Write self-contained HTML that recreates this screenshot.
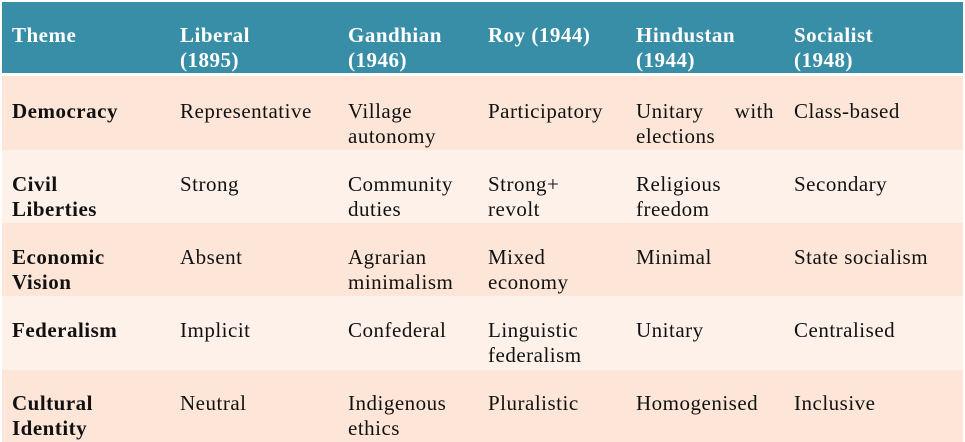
<!DOCTYPE html>
<html><head><meta charset="utf-8"><style>
body{margin:0;width:965px;height:442px;overflow:hidden;background:#fff;font-family:"Liberation Serif",serif;}
.hdr{position:absolute;left:2px;top:2px;width:961px;height:71px;background:#388ea6;}
.row{position:absolute;left:2px;width:961px;}
.c{position:absolute;font-size:21px;line-height:25px;letter-spacing:0.5px;color:#111;}
.h{color:#fff;font-weight:bold;}
.b{font-weight:bold;}
.j{text-align:justify;text-align-last:left;width:138px;}
</style></head><body>
<div class="hdr"></div>
<div class="row" style="top:76px;height:74px;background:#fde6d8"></div>
<div class="row" style="top:150px;height:73px;background:#fef1ea"></div>
<div class="row" style="top:223px;height:73px;background:#fde6d8"></div>
<div class="row" style="top:296px;height:74px;background:#fef1ea"></div>
<div class="row" style="top:370px;height:72px;background:#fde6d8"></div>

<div class="c h" style="left:12px;top:23px">Theme</div>
<div class="c h" style="left:180px;top:23px">Liberal<br>(1895)</div>
<div class="c h" style="left:348px;top:23px">Gandhian<br>(1946)</div>
<div class="c h" style="left:488px;top:23px">Roy (1944)</div>
<div class="c h" style="left:636px;top:23px">Hindustan<br>(1944)</div>
<div class="c h" style="left:794px;top:23px">Socialist<br>(1948)</div>

<div class="c b" style="left:12px;top:99px">Democracy</div>
<div class="c" style="left:180px;top:99px">Representative</div>
<div class="c" style="left:348px;top:99px">Village<br>autonomy</div>
<div class="c" style="left:488px;top:99px">Participatory</div>
<div class="c j" style="left:636px;top:99px">Unitary with elections</div>
<div class="c" style="left:794px;top:99px">Class-based</div>

<div class="c b" style="left:12px;top:172px">Civil<br>Liberties</div>
<div class="c" style="left:180px;top:172px">Strong</div>
<div class="c" style="left:348px;top:172px">Community<br>duties</div>
<div class="c" style="left:488px;top:172px">Strong+<br>revolt</div>
<div class="c" style="left:636px;top:172px">Religious<br>freedom</div>
<div class="c" style="left:794px;top:172px">Secondary</div>

<div class="c b" style="left:12px;top:245px">Economic<br>Vision</div>
<div class="c" style="left:180px;top:245px">Absent</div>
<div class="c" style="left:348px;top:245px">Agrarian<br>minimalism</div>
<div class="c" style="left:488px;top:245px">Mixed<br>economy</div>
<div class="c" style="left:636px;top:245px">Minimal</div>
<div class="c" style="left:794px;top:245px">State socialism</div>

<div class="c b" style="left:12px;top:318px">Federalism</div>
<div class="c" style="left:180px;top:318px">Implicit</div>
<div class="c" style="left:348px;top:318px">Confederal</div>
<div class="c" style="left:488px;top:318px">Linguistic<br>federalism</div>
<div class="c" style="left:636px;top:318px">Unitary</div>
<div class="c" style="left:794px;top:318px">Centralised</div>

<div class="c b" style="left:12px;top:391px">Cultural<br>Identity</div>
<div class="c" style="left:180px;top:391px">Neutral</div>
<div class="c" style="left:348px;top:391px">Indigenous<br>ethics</div>
<div class="c" style="left:488px;top:391px">Pluralistic</div>
<div class="c" style="left:636px;top:391px">Homogenised</div>
<div class="c" style="left:794px;top:391px">Inclusive</div>
</body></html>
